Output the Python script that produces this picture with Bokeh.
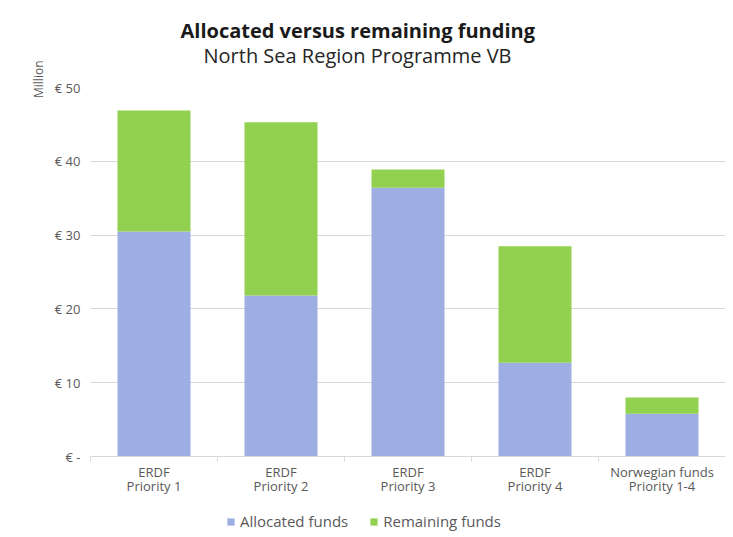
from bokeh.plotting import figure
from bokeh.layouts import column
from bokeh.models import Title, Legend, LegendItem, FixedTicker, ColumnDataSource, Range1d
from bokeh.embed import file_html
from bokeh.resources import INLINE

categories = ["ERDF\nPriority 1", "ERDF\nPriority 2", "ERDF\nPriority 3",
              "ERDF\nPriority 4", "Norwegian funds\nPriority 1-4"]
allocated = [30.5, 21.8, 36.4, 12.7, 5.8]
remaining = [16.4, 23.5, 2.5, 15.8, 2.2]
series_names = ["Allocated funds", "Remaining funds"]
y_ticks = [0, 10, 20, 30, 40, 50]
y_tick_labels = ["€ -", "€ 10", "€ 20", "€ 30", "€ 40", "€ 50"]
title_text = "Allocated versus remaining funding"
subtitle_text = "North Sea Region Programme VB"

FONT = "Open Sans"
BLUE = "#9DAEE3"
GREEN = "#92D050"
GRID = "#d9d9d9"
TXT = "#595959"

xs = list(range(len(categories)))
src = ColumnDataSource(dict(x=xs, allocated=allocated, remaining=remaining))
stack_cols = ["allocated", "remaining"]

p = figure(frame_width=635, frame_height=369,
           output_backend="svg", toolbar_location=None,
           x_range=Range1d(-0.5, len(categories) - 0.5), y_range=Range1d(0, 50),
           min_border_left=90, min_border_right=0, min_border_top=87, min_border_bottom=50)
p.outline_line_color = None
p.background_fill_color = "white"
p.border_fill_color = "white"

renderers = p.vbar_stack(stack_cols, x="x", width=0.575,
                         color=[BLUE, GREEN], line_color=None, source=src)

# Axes
p.xaxis.ticker = FixedTicker(ticks=xs, minor_ticks=[i - 0.5 for i in range(len(categories) + 1)])
p.xaxis.major_label_overrides = {i: c for i, c in enumerate(categories)}
p.xaxis.major_tick_line_color = None
p.xaxis.minor_tick_line_color = GRID
p.xaxis.minor_tick_in = 0
p.xaxis.minor_tick_out = 5
p.xaxis.axis_line_color = GRID
p.xaxis.major_label_text_font = FONT
p.xaxis.major_label_text_font_size = "13px"
p.xaxis.major_label_text_line_height = 0.8
p.xaxis.major_label_text_color = TXT
p.xaxis.major_label_standoff = 0

p.yaxis.ticker = FixedTicker(ticks=y_ticks)
p.yaxis.major_label_overrides = {t: l for t, l in zip(y_ticks, y_tick_labels)}
p.yaxis.axis_line_color = None
p.yaxis.major_tick_line_color = None
p.yaxis.minor_tick_line_color = None
p.yaxis.major_label_text_font = FONT
p.yaxis.major_label_text_font_size = "13px"
p.yaxis.major_label_text_color = TXT
p.yaxis.major_label_standoff = 4

p.xgrid.grid_line_color = None
p.ygrid.grid_line_color = GRID
p.ygrid.ticker = FixedTicker(ticks=y_ticks)

# Title panels (first added sits closest to the frame)
p.add_layout(Title(text=" ", text_font_size="1px", standoff=16), "above")
p.add_layout(Title(text=subtitle_text, align="left", offset=113,
                   text_font=FONT, text_font_size="20px", text_font_style="normal",
                   text_color="#262626", standoff=0), "above")
p.add_layout(Title(text=title_text, align="left", offset=90,
                   text_font=FONT, text_font_size="20px", text_font_style="bold",
                   text_color="#1a1a1a", standoff=-8), "above")

p.add_layout(Title(text="Million", align="right", offset=-27, text_font=FONT,
                   text_font_size="12px", text_font_style="normal", text_color=TXT), "left")

# Legend strip below the chart (its bars lie outside its view; only the legend shows)
lg = figure(width=725, height=31, output_backend="svg", toolbar_location=None,
            x_range=Range1d(100, 101), y_range=Range1d(100, 101),
            x_axis_location=None, y_axis_location=None,
            min_border_left=0, min_border_right=0, min_border_top=0, min_border_bottom=0)
lg.outline_line_color = None
lg.grid.grid_line_color = None
lg_renderers = lg.vbar_stack(stack_cols, x="x", width=0.575,
                             color=[BLUE, GREEN], line_color=None, source=src)
legend = Legend(items=[LegendItem(label=n, renderers=[r]) for n, r in zip(series_names, lg_renderers)],
                orientation="horizontal", location=(136, 6),
                label_text_font=FONT, label_text_font_size="15px", label_text_color=TXT,
                glyph_width=9, glyph_height=9, spacing=21, border_line_color=None,
                background_fill_alpha=0, padding=0, margin=0, label_standoff=5)
lg.add_layout(legend)

layout = column(p, lg, spacing=0)
open("out.html", "w").write(file_html(layout, INLINE))
